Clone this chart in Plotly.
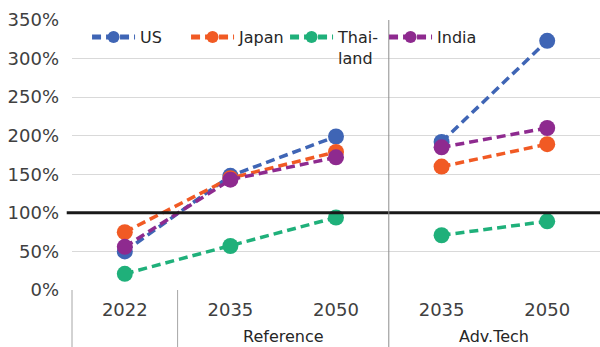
import plotly.graph_objects as go

groups = ["", "Reference", "Reference", "Adv.Tech", "Adv.Tech"]
years = ["2022", "2035", "2050", "2035", "2050"]

us = [50, 148, 199, 192, 323]
japan = [75, 145, 179, 160, 189]
thailand = [21, 57, 94, 71, 89]
india = [56, 143, 172, 185, 210]

yticks = [0, 50, 100, 150, 200, 250, 300, 350]
ytick_text = [f"{v}%" for v in yticks]

series = [
    ("US", us, "#3F65B5"),
    ("Japan", japan, "#F15A24"),
    ("Thai-<br>land", thailand, "#1FB07A"),
    ("India", india, "#8E2A8F"),
]

keys = [f"{g}|{y}" for g, y in zip(groups, years)]

font_family = "DejaVu Sans"
fig = go.Figure()

ref_idx = [0, 1, 2]
adv_idx = [3, 4]
for name, vals, color in series:
    for k, idx in enumerate([ref_idx, adv_idx]):
        fig.add_trace(go.Scatter(
            x=[keys[i] for i in idx],
            y=[vals[i] for i in idx],
            mode="lines+markers",
            name=name,
            legendgroup=name,
            showlegend=(k == 0),
            line=dict(color=color, width=3.5, dash="9px,5px"),
            marker=dict(color=color, size=16),
        ))

# 100% reference line
fig.add_shape(type="line", xref="paper", yref="y", x0=-0.01, x1=1, y0=100, y1=100,
              line=dict(color="#1a1a1a", width=3))
# dividers
div_color = "#a6a6a6"
fig.add_shape(type="line", xref="paper", yref="paper", x0=0.6, x1=0.6, y0=-0.3, y1=1,
              line=dict(color="#8c8c8c", width=1))
for xp in [0.0, 0.2]:
    fig.add_shape(type="line", xref="paper", yref="paper", x0=xp, x1=xp, y0=-0.3, y1=0,
                  line=dict(color=div_color, width=1))

# group labels
group_names = []
for g in groups:
    if g and g not in group_names:
        group_names.append(g)
for g in group_names:
    idx = [i for i, gg in enumerate(groups) if gg == g]
    center = sum(idx) / len(idx)
    fig.add_annotation(x=center, xref="x", y=-0.174, yref="paper", text=g,
                       showarrow=False, yanchor="middle", xanchor="center", borderpad=0,
                       font=dict(size=16, color="#262626", family=font_family))

fig.update_layout(
    width=600, height=347,
    margin=dict(l=72, r=0, t=20, b=57),
    paper_bgcolor="white", plot_bgcolor="white",
    font=dict(family=font_family, size=16, color="#404040"),
    showlegend=True,
    legend=dict(orientation="h", x=0.0285, y=1.0, xanchor="left", yanchor="top",
                bgcolor="rgba(0,0,0,0)", font=dict(size=16, color="#262626"),
                itemwidth=43, entrywidth=41, itemsizing="constant", traceorder="normal",
                valign="top"),
    xaxis=dict(type="category", categoryorder="array", categoryarray=keys,
               tickvals=keys, ticktext=years, range=[-0.5, 4.5],
               showgrid=False, showline=False, zeroline=False,
               ticklabelstandoff=7,
               tickfont=dict(size=18, color="#404040"), automargin=False),
    yaxis=dict(range=[0, 350], tickvals=yticks, ticktext=ytick_text,
               showgrid=True, gridcolor="#d9d9d9", gridwidth=1,
               zeroline=False, showline=False, ticklabelstandoff=12,
               tickfont=dict(size=18, color="#404040"), automargin=False),
)

fig.write_html("out.html")
